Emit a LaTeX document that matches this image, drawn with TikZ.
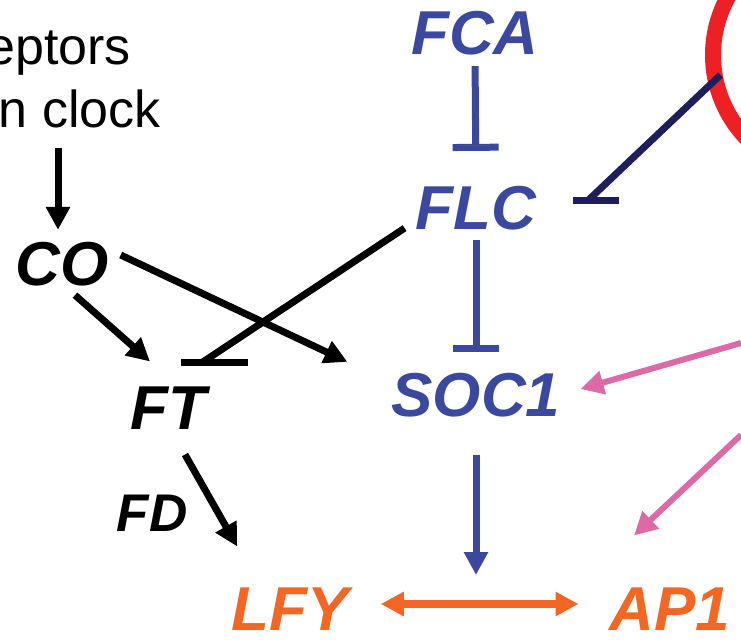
\documentclass[tikz,border=0pt]{standalone}
\usepackage{fontspec}
\setmainfont{Liberation Sans}
\usetikzlibrary{arrows.meta,calc}
\definecolor{geneblue}{RGB}{59,72,160}
\definecolor{geneorange}{RGB}{243,102,35}
\definecolor{ringred}{RGB}{237,32,36}
\definecolor{navyline}{RGB}{31,29,91}
\definecolor{pinkline}{RGB}{219,106,167}
\tikzset{
  gene/.style={font=\bfseries\itshape\fontsize{62}{62}\selectfont, inner sep=0pt},
  smallgene/.style={font=\bfseries\itshape\fontsize{53}{53}\selectfont, inner sep=0pt},
  plaintext/.style={font=\fontsize{52}{52}\selectfont, inner sep=0pt, anchor=base east},
  act/.style={line width=7pt, -{Triangle[length=23pt,width=23pt]}},
  inh/.style={line width=7pt, -{Bar[width=46pt,line width=7pt]}},
  tbar/.style={line width=7pt},
}
\begin{document}
\begin{tikzpicture}[x=1pt, y=-1pt]
\useasboundingbox (0,0) rectangle (741,642);

\node[plaintext] (recep) at (131,65) {eptors};
\node[plaintext] (clock) at (161,127) {n clock};

\node[gene, text=geneblue] (FCA) at (475,33) {FCA};
\node[gene, text=geneblue] (FLC) at (476,208) {FLC};
\node[gene, text=geneblue] (SOC1) at (476,395) {SOC1};
\node[gene] (CO) at (62,264) {CO};
\node[gene] (FT) at (168,408) {FT};
\node[smallgene] (FD) at (152,513) {FD};
\node[gene, text=geneorange] (LFY) at (290,609) {LFY};
\node[gene, text=geneorange] (AP1) at (670,609) {AP1};
\node[draw=ringred, line width=16pt, circle, minimum size=240pt, inner sep=0pt] (ring) at (833,55) {};

\coordinate (ftbar) at ([shift={(-4,-24)}]FT.north east);
\coordinate (flcbar) at ([shift={(52,-8)}]FLC.east);
\coordinate (mid) at ([yshift=5pt]$(LFY.east)!0.5!(AP1.west)$);
\coordinate (pinkA) at (741,343);
\coordinate (pinkB) at (741,435);

\draw[act, shorten <=20pt, shorten >=12pt] ([xshift=-4pt]CO.north |- clock.south) -- ([xshift=-4pt]CO.north);
\draw[act] ([shift={(13,9)}]CO.south) -- ([shift={(-18,-25)}]FT.north);
\draw[act] ([shift={(12,-9)}]CO.east) -- ([shift={(-44,-11)}]SOC1.north west);
\draw[act] ([shift={(17,25)}]FT.south) -- ([shift={(6,-41)}]LFY.north west);

\draw[tbar] ([shift={(-11,-2)}]FLC.south west) -- (ftbar);
\draw[tbar] ([xshift=-21pt]ftbar) -- ([xshift=46pt]ftbar);

\draw[inh, geneblue, shorten <=11pt, shorten >=35pt] (FCA.south) -- (FLC.north);
\draw[inh, geneblue, shorten <=10pt, shorten >=21pt] (FLC.south) -- (SOC1.north);
\draw[act, geneblue, shorten <=38pt, shorten >=29pt] (SOC1.south) -- (SOC1.south |- mid);

\draw[tbar, navyline, shorten <=-16pt] (ring.194) -- (flcbar);
\draw[tbar, navyline] ([xshift=-15pt]flcbar) -- ([xshift=31pt]flcbar);

\draw[act, pinkline, line width=6pt] (pinkA) -- ([shift={(20,-6)}]SOC1.east);
\draw[act, pinkline, line width=6pt] (pinkB) -- ([shift={(-36,-52)}]AP1.north);

\draw[line width=8pt, geneorange, {Triangle[length=23pt,width=23pt]}-{Triangle[length=23pt,width=23pt]}, shorten <=32pt, shorten >=31pt] ([yshift=5pt]LFY.east) -- ([yshift=5pt]AP1.west);
\end{tikzpicture}
\end{document}
